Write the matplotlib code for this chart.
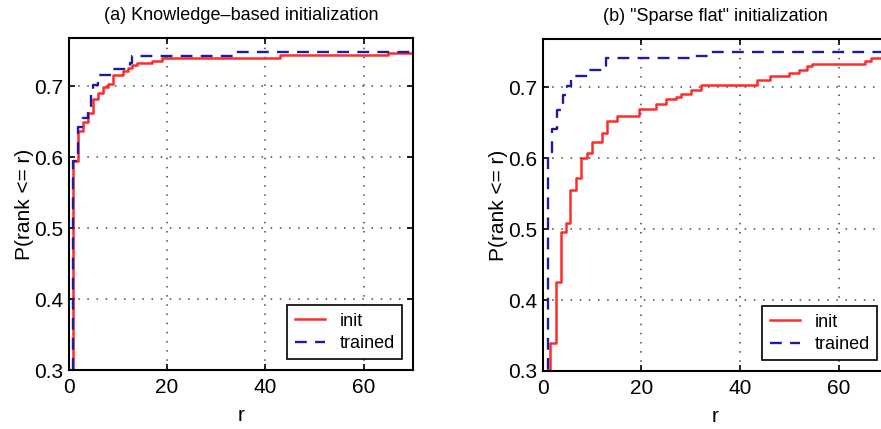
import matplotlib
matplotlib.use("Agg")
import matplotlib.pyplot as plt

plt.rcParams['font.family'] = ['Liberation Sans', 'DejaVu Sans']

# (a) knowledge-based initialization: step positions (rank) and levels
a_init_r = [0, 1, 2, 3, 4, 5, 6, 7, 8, 9, 11, 12, 13, 14, 17, 19, 43, 65, 70]
a_init_p = [0.0, 0.594, 0.637, 0.649, 0.662, 0.682, 0.691, 0.699, 0.703, 0.716,
            0.721, 0.726, 0.730, 0.733, 0.736, 0.740, 0.744, 0.7475, 0.7475]
a_trained_r = [0, 1, 2, 3, 4, 4.6, 5, 6, 9, 12.4, 13, 33.4, 70]
a_trained_p = [0.0, 0.595, 0.642, 0.655, 0.668, 0.690, 0.702, 0.716, 0.724,
               0.733, 0.742, 0.748, 0.748]

# (b) "sparse flat" initialization
b_init_r = [0, 1.5, 2.6, 3.8, 4.8, 5.6, 6.8, 7.8, 9, 10, 12, 13, 15, 19.5, 23,
            25, 27, 28, 30, 32, 43.4, 46, 50, 52, 53.6, 54.6, 65.4, 66.5, 72]
b_init_p = [0.0, 0.339, 0.425, 0.496, 0.509, 0.556, 0.572, 0.600, 0.607, 0.623,
            0.636, 0.653, 0.660, 0.670, 0.677, 0.684, 0.687, 0.691, 0.697,
            0.703, 0.711, 0.716, 0.720, 0.725, 0.730, 0.733, 0.738, 0.741, 0.741]
b_trained_r = [0, 1, 1.9, 3, 4.2, 5, 5.7, 9.2, 12.9, 30.3, 34, 72]
b_trained_p = [0.0, 0.609, 0.642, 0.668, 0.690, 0.702, 0.716, 0.725, 0.741,
               0.745, 0.750, 0.750]

titles = ['(a) Knowledge\u2013based initialization', '(b) "Sparse flat" initialization']
x_ticks = [0, 20, 40, 60]
y_ticks = [0.3, 0.4, 0.5, 0.6, 0.7]

RED = '#ff2a2a'
BLUE = '#1c1c9c'

fig = plt.figure(figsize=(8.81, 4.29), dpi=100)
W, H = 881, 429
boxes = [(68.5, 38, 413, 370), (542.7, 39.3, 888, 371)]
series = [(a_init_r, a_init_p, a_trained_r, a_trained_p),
          (b_init_r, b_init_p, b_trained_r, b_trained_p)]

for (x0, y0, x1, y1), (ir, ip, tr, tp), title in zip(boxes, series, titles):
    ax = fig.add_axes([x0 / W, 1 - y1 / H, (x1 - x0) / W, (y1 - y0) / H])
    ax.step(ir, ip, where='post', color=RED, lw=1.8, label='init')
    ax.step(tr, tp, where='post', color=BLUE, lw=1.7, dashes=(5, 3.5), label='trained')
    ax.set_xlim(0, 70)
    ax.set_ylim(0.3, 0.768)
    ax.set_xticks(x_ticks)
    ax.set_yticks(y_ticks)
    ax.set_yticklabels(['0.3', '0.4', '0.5', '0.6', '0.7'])
    ax.grid(True, color='#4a4535', linestyle=(0, (1, 5)), linewidth=1.1)
    ax.tick_params(direction='in', top=True, right=True, length=4, width=1.2,
                   labelsize=15)
    ax.tick_params(axis='x', pad=6)
    ax.tick_params(axis='y', pad=4)
    for s in ax.spines.values():
        s.set_linewidth(1.5)
    ax.set_title(title, fontsize=13, pad=13)
    ax.set_xlabel('r', fontsize=15, labelpad=6)
    ax.set_ylabel('P(rank <= r)', fontsize=15, labelpad=0)
    leg = ax.legend(loc='lower right', fontsize=13, fancybox=False, framealpha=1,
                    edgecolor='black', handlelength=1.7, borderaxespad=0.6,
                    labelspacing=0.3, handletextpad=0.8)
    leg.get_frame().set_linewidth(1.2)

fig.savefig('out.png', dpi=100)
